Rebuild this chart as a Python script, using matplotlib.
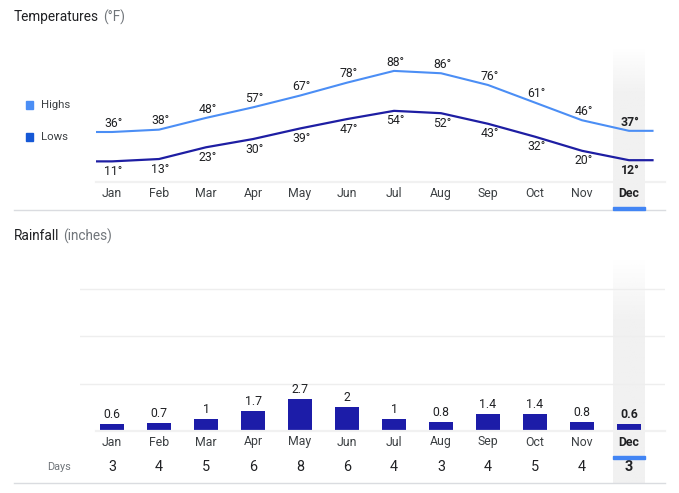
import numpy as np
import matplotlib
matplotlib.use('Agg')
import matplotlib.pyplot as plt
from matplotlib.transforms import blended_transform_factory
from matplotlib.patches import Rectangle

plt.rcParams['font.family'] = ['Roboto', 'DejaVu Sans']

months = ['Jan', 'Feb', 'Mar', 'Apr', 'May', 'Jun',
          'Jul', 'Aug', 'Sep', 'Oct', 'Nov', 'Dec']
highs = [36, 38, 48, 57, 67, 78, 88, 86, 76, 61, 46, 37]
lows = [11, 13, 23, 30, 39, 47, 54, 52, 43, 32, 20, 12]
rain = [0.6, 0.7, 1, 1.7, 2.7, 2, 1, 0.8, 1.4, 1.4, 0.8, 0.6]
rain_days = [3, 4, 5, 6, 8, 6, 4, 3, 4, 5, 4, 3]
current = 11  # Dec is highlighted

W, H = 679, 493
HIGH_C = '#4b8ef5'
LOW_C = '#1e1ea3'
LOW_LEG = '#1558d6'
BAR_C = '#1c1ca8'
TXT = '#3c4043'
SUB = '#70757a'
LINE = '#dadce0'
FS = 8.8


def fx(x):
    return x / W


def fy(y):
    return 1 - y / H


def box(x0, y0, x1, y1):
    """pixel box (top-left origin) -> figure rect"""
    return [fx(x0), fy(y1), (x1 - x0) / W, (y1 - y0) / H]


def fmt(v):
    return f'{v:g}'


def title(y, main, sub):
    t = fig.text(fx(14), fy(y), main, fontsize=9.8, color='#202124', va='center')
    bb = t.get_window_extent(renderer=fig.canvas.get_renderer())
    fig.text(fx(bb.x1 + 4), fy(y), sub, fontsize=9.8, color=SUB, va='center')


fig = plt.figure(figsize=(W / 100, H / 100), dpi=100)

# highlighted column bands (gradient at top)
grad = np.ones((60, 1, 4))
grad[..., :3] = matplotlib.colors.to_rgb('#f1f1f1')
grad[:, 0, 3] = np.clip(np.linspace(0, 1, 60) * 3.5, 0, 1)
for y0, y1 in [(47, 210), (258, 483)]:
    bax = fig.add_axes(box(613, y0, 645, y1), zorder=0)
    bax.imshow(grad, aspect='auto', interpolation='bilinear', extent=[0, 1, 1, 0])
    bax.axis('off')

x = np.arange(len(months))

# ---- temperatures ----
ax = fig.add_axes(box(96, 47, 665, 182), zorder=1)
ax.patch.set_visible(False)
ax.set_xlim((96 - 112) / 47, 11 + (665 - 629) / 47)
ax.set_ylim(36 - 50 / 1.175, 36 + 85 / 1.175)
ax.axis('off')

xe = np.concatenate([[-0.5], x, [11.5]])
ax.plot(xe, [highs[0]] + highs + [highs[-1]], color=HIGH_C, lw=1.5,
        solid_joinstyle='round')
ax.plot(xe, [lows[0]] + lows + [lows[-1]], color=LOW_C, lw=1.6,
        solid_joinstyle='round')
for i in x:
    bold = 'bold' if i == current else 'normal'
    ax.annotate(f'{highs[i]}°', (i, highs[i]), xytext=(1, 6.3),
                textcoords='offset points', ha='center', va='center',
                fontsize=FS, color='#202124', fontweight=bold)
    ax.annotate(f'{lows[i]}°', (i, lows[i]), xytext=(1, -7.2),
                textcoords='offset points', ha='center', va='center',
                fontsize=FS, color='#202124', fontweight=bold)

tr = blended_transform_factory(ax.transData, fig.transFigure)
for i in x:
    bold = i == current
    ax.text(i, fy(193), months[i], transform=tr, ha='center', va='center',
            fontsize=FS, color='#202124' if bold else TXT,
            fontweight='bold' if bold else 'normal')

fig.lines.append(plt.Line2D([fx(96), fx(665)], [fy(182), fy(182)],
                            color='#f1f1f1', lw=1.6, transform=fig.transFigure))
fig.lines.append(plt.Line2D([fx(14), fx(665)], [fy(209.5), fy(209.5)],
                            color=LINE, lw=1, transform=fig.transFigure))
fig.patches.append(Rectangle((fx(613), fy(210)), fx(32), 3 / H,
                             color='#4285f4', transform=fig.transFigure, zorder=3))

title(17, 'Temperatures', '(°F)')

# legend
for lab, col, yy in [('Highs', HIGH_C, 105), ('Lows', LOW_LEG, 137)]:
    fig.patches.append(Rectangle((fx(26), fy(yy + 3.5)), 7 / W, 7 / H,
                                 color=col, transform=fig.transFigure))
    fig.text(fx(41), fy(yy), lab, fontsize=8.2, color=TXT, va='center')

# ---- rainfall ----
rx = fig.add_axes(box(80, 262, 665, 431), zorder=1)
rx.patch.set_visible(False)
rx.set_xlim((80 - 112) / 47, 11 + (665 - 629) / 47)
rx.set_ylim(0, (431 - 262) / 11.85)
rx.axis('off')
for g in [4, 8, 12]:
    rx.axhline(g, color='#eeeeee', lw=1, zorder=0)
rx.bar(x, rain, width=0.51, color=BAR_C, zorder=2)
for i in x:
    rx.annotate(fmt(rain[i]), (i, rain[i]), xytext=(0, 6.8),
                textcoords='offset points', ha='center', va='center',
                fontsize=FS, color='#202124',
                fontweight='bold' if i == current else 'normal')

tr2 = blended_transform_factory(rx.transData, fig.transFigure)
for i in x:
    bold = i == current
    rx.text(i, fy(442), months[i], transform=tr2, ha='center', va='center',
            fontsize=FS, color='#202124' if bold else TXT,
            fontweight='bold' if bold else 'normal')
    rx.text(i, fy(467), str(rain_days[i]), transform=tr2, ha='center',
            va='center', fontsize=10.4, color='#202124',
            fontweight='bold' if bold else 'normal')

fig.lines.append(plt.Line2D([fx(96), fx(665)], [fy(431), fy(431)],
                            color='#f1f1f1', lw=1.6, transform=fig.transFigure))
fig.lines.append(plt.Line2D([fx(14), fx(665)], [fy(483), fy(483)],
                            color=LINE, lw=1, transform=fig.transFigure))
fig.patches.append(Rectangle((fx(613), fy(459)), fx(32), 3 / H,
                             color='#4285f4', transform=fig.transFigure))

title(236, 'Rainfall', '(inches)')
fig.text(fx(71), fy(467), 'Days', fontsize=7.8, color=SUB, va='center', ha='right')

fig.savefig('out.png', dpi=100)
